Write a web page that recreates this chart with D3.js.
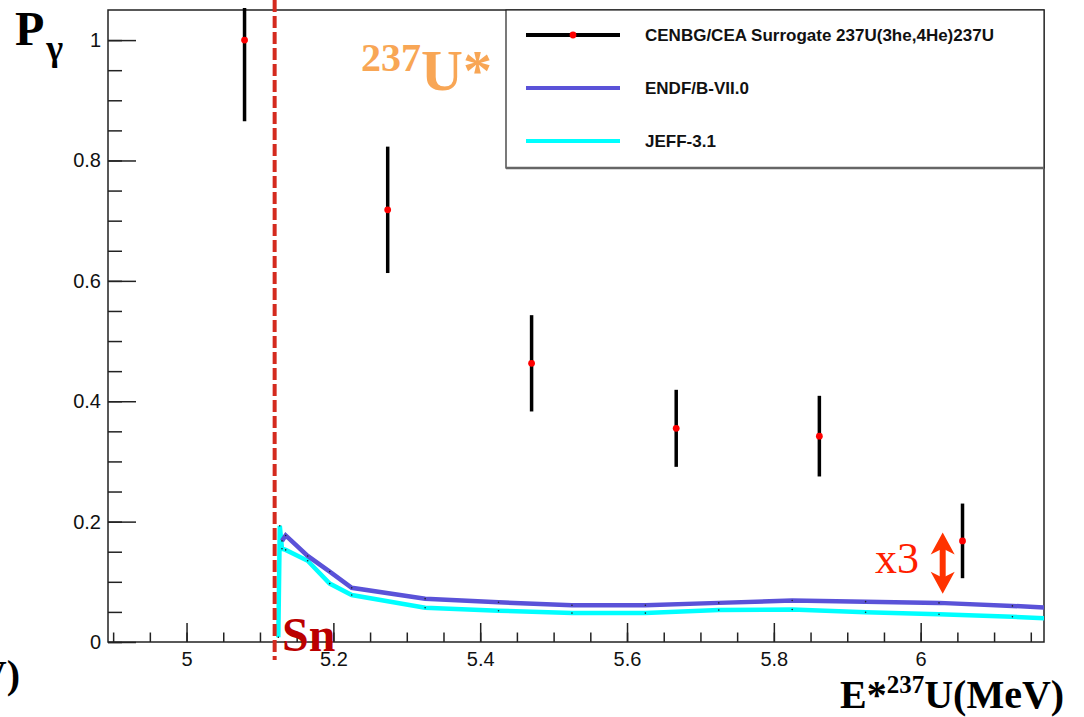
<!DOCTYPE html>
<html>
<head>
<meta charset="utf-8">
<script src="https://cdn.jsdelivr.net/npm/d3@7"></script>
<style>
  body { margin: 0; background: #fff; }
  svg { display: block; }
  .tick line { stroke: #222; stroke-width: 1.5; }
</style>
</head>
<body>
<svg id="chart"></svg>
<script>
// measured points (surrogate)
var energy   = [5.079, 5.274, 5.470, 5.667, 5.862, 6.057];
var pgamma   = [1.000, 0.718, 0.463, 0.355, 0.342, 0.168];
var pgammaEr = [0.135, 0.105, 0.080, 0.064, 0.067, 0.062];

// evaluated curves
var endfE = [5.130, 5.135, 5.165, 5.195, 5.225, 5.325, 5.425, 5.525, 5.625, 5.725, 5.825, 5.925, 6.025, 6.125, 6.175];
var endfP = [0.168, 0.177, 0.143, 0.117, 0.090, 0.072, 0.066, 0.061, 0.061, 0.065, 0.069, 0.067, 0.065, 0.060, 0.057];
var jeffE = [5.125, 5.127, 5.130, 5.135, 5.165, 5.195, 5.225, 5.325, 5.425, 5.525, 5.625, 5.725, 5.825, 5.925, 6.025, 6.125, 6.175];
var jeffP = [0.008, 0.193, 0.155, 0.153, 0.135, 0.097, 0.078, 0.057, 0.052, 0.048, 0.048, 0.053, 0.054, 0.0495, 0.046, 0.042, 0.039];

var xTicks = [5, 5.2, 5.4, 5.6, 5.8, 6];
var yTicks = [0, 0.2, 0.4, 0.6, 0.8, 1];
var sn = 5.12;

var legendLabels = ["CENBG/CEA Surrogate 237U(3he,4He)237U", "ENDF/B-VII.0", "JEFF-3.1"];

var width = 1084, height = 717;
var pLeft = 108, pRight = 1044, pTop = 10, pBottom = 642;

var svg = d3.select("#chart").attr("width", width).attr("height", height);

var x = d3.scaleLinear().domain([4.893, 6.168]).range([pLeft, pRight]);
var y = d3.scaleLinear().domain([0, 1.05]).range([pBottom, pTop]);

svg.append("clipPath").attr("id", "plotclip")
   .append("rect").attr("x", pLeft).attr("y", pTop).attr("width", pRight - pLeft).attr("height", pBottom - pTop);
svg.append("clipPath").attr("id", "barclip")
   .append("rect").attr("x", pLeft).attr("y", pTop - 2).attr("width", pRight - pLeft).attr("height", pBottom - pTop + 2);

function styleAxis(g) {
    g.select(".domain").remove();
    g.attr("font-family", "'Liberation Sans', Arial, sans-serif").attr("font-size", 20);
    g.selectAll(".tick text").attr("fill", "#111");
}

// minor ticks
svg.append("g")
   .attr("transform", "translate(" + pLeft + ",0)")
   .call(d3.axisLeft(y).tickValues(d3.range(0, 1.05, 0.05)).tickSize(-14).tickFormat(""))
   .call(styleAxis);
svg.append("g")
   .attr("transform", "translate(0," + pBottom + ")")
   .call(d3.axisBottom(x).tickValues(d3.range(4.9, 6.17, 0.05)).tickSize(-9.5).tickFormat(""))
   .call(styleAxis);

// major ticks
svg.append("g")
   .attr("transform", "translate(" + pLeft + ",0)")
   .call(d3.axisLeft(y).tickValues(yTicks).tickSize(-28).tickPadding(7).tickFormat(function(d){ return String(d); }))
   .call(styleAxis);
svg.append("g")
   .attr("transform", "translate(0," + pBottom + ")")
   .call(d3.axisBottom(x).tickValues(xTicks).tickSize(-19).tickPadding(10).tickFormat(function(d){ return String(d); }))
   .call(styleAxis);

// frame
svg.append("rect")
   .attr("x", pLeft).attr("y", pTop).attr("width", pRight - pLeft).attr("height", pBottom - pTop)
   .attr("style", "fill: none; stroke: #222; stroke-width: 1.5");

// curves
var line = d3.line()
    .x(function(d) { return x(d[0]); })
    .y(function(d) { return y(d[1]); });

var curves = svg.append("g").attr("clip-path", "url(#plotclip)");
curves.append("path")
   .datum(d3.zip(jeffE, jeffP))
   .attr("d", line)
   .attr("style", "fill: none; stroke: #00ffff; stroke-width: 4.5");
curves.append("path")
   .datum(d3.zip(endfE, endfP))
   .attr("d", line)
   .attr("style", "fill: none; stroke: #5a52d8; stroke-width: 4.5");
curves.selectAll("circle.v")
   .data(d3.zip(endfE, endfP).concat(d3.zip(jeffE, jeffP)))
   .enter().append("circle")
   .attr("cx", function(d) { return x(d[0]); })
   .attr("cy", function(d) { return y(d[1]); })
   .attr("r", 0.8)
   .attr("style", "fill: #222");

// error bars and points
var bars = svg.append("g").attr("clip-path", "url(#barclip)");
bars.selectAll("line")
   .data(energy)
   .enter().append("line")
   .attr("x1", function(d) { return x(d); })
   .attr("x2", function(d) { return x(d); })
   .attr("y1", function(d, i) { return y(pgamma[i] - pgammaEr[i]); })
   .attr("y2", function(d, i) { return y(pgamma[i] + pgammaEr[i]); })
   .attr("style", "stroke: #000; stroke-width: 3.5");
bars.selectAll("circle")
   .data(energy)
   .enter().append("circle")
   .attr("cx", function(d) { return x(d); })
   .attr("cy", function(d, i) { return y(pgamma[i]); })
   .attr("r", 3.4)
   .attr("style", "fill: #ff0000");

// neutron separation energy
svg.append("line")
   .attr("x1", x(sn)).attr("x2", x(sn))
   .attr("y1", 0).attr("y2", 660)
   .attr("style", "stroke: #d42a1e; stroke-width: 4; stroke-dasharray: 12,4");

// legend
var lg = svg.append("g");
lg.append("rect")
  .attr("x", 506).attr("y", pTop).attr("width", pRight - 506).attr("height", 158)
  .attr("style", "fill: #fff; stroke: #222; stroke-width: 1.2");
lg.append("line")
  .attr("x1", 506).attr("x2", pRight).attr("y1", 168).attr("y2", 168)
  .attr("style", "stroke: #666; stroke-width: 2.5");
var legendColors = ["#000", "#5a52d8", "#00ffff"];
legendLabels.forEach(function(lab, i) {
    var ly = 35 + i * 53;
    lg.append("line")
      .attr("x1", 526).attr("x2", 620).attr("y1", ly).attr("y2", ly)
      .attr("style", "stroke: " + legendColors[i] + "; stroke-width: 4");
    if (i == 0) {
        lg.append("circle").attr("cx", 573).attr("cy", ly).attr("r", 3.4).attr("style", "fill: #ff0000");
    }
    lg.append("text")
      .attr("x", 645).attr("y", ly + 6)
      .attr("style", "font-family: 'Liberation Sans', Arial, sans-serif; font-weight: bold; font-size: 17px; fill: #111")
      .text(lab);
});

// annotations
var serif = "font-family: 'Liberation Serif', 'Times New Roman', serif; font-weight: bold; ";

var py = svg.append("text").attr("x", 15).attr("y", 45).attr("style", serif + "font-size: 48px; fill: #000");
py.append("tspan").text("P");
py.append("tspan").attr("dx", 2).attr("dy", 15).attr("style", "font-size: 36px").text("γ");

svg.append("text").attr("x", 20).attr("y", 688).attr("text-anchor", "end")
   .attr("style", serif + "font-size: 40px; fill: #000").text("(MeV)");

var xt = svg.append("text").attr("x", 840).attr("y", 708).attr("style", serif + "font-size: 40px; fill: #000");
xt.append("tspan").text("E*");
xt.append("tspan").attr("dy", -15).attr("style", "font-size: 25px").text("237");
xt.append("tspan").attr("dy", 15).text("U(MeV)");

var ut = svg.append("text").attr("x", 361).attr("y", 90).attr("style", serif + "fill: #f8a655");
ut.append("tspan").attr("dy", -19).attr("style", "font-size: 40px").text("237");
ut.append("tspan").attr("dy", 19).attr("style", "font-size: 58px").text("U*");

svg.append("text").attr("x", 282).attr("y", 651)
   .attr("style", serif + "font-size: 48px; fill: #bb0000").text("Sn");

svg.append("text").attr("x", 875).attr("y", 573)
   .attr("style", "font-family: 'Liberation Serif', 'Times New Roman', serif; font-size: 44px; fill: #ff1e00").text("x3");

// x3 double arrow
var ax = x(6.03), ay1 = y(0.182), ay2 = y(0.08);
svg.append("line")
   .attr("x1", ax).attr("x2", ax).attr("y1", ay1 + 12).attr("y2", ay2 - 12)
   .attr("style", "stroke: #ff3300; stroke-width: 6");
svg.append("path")
   .attr("d", "M" + ax + "," + ay1 + " L" + (ax + 12) + "," + (ay1 + 22) + " L" + ax + "," + (ay1 + 16) + " L" + (ax - 12) + "," + (ay1 + 22) + "Z")
   .attr("style", "fill: #ff3300");
svg.append("path")
   .attr("d", "M" + ax + "," + ay2 + " L" + (ax + 12) + "," + (ay2 - 22) + " L" + ax + "," + (ay2 - 16) + " L" + (ax - 12) + "," + (ay2 - 22) + "Z")
   .attr("style", "fill: #ff3300");
</script>
</body>
</html>
